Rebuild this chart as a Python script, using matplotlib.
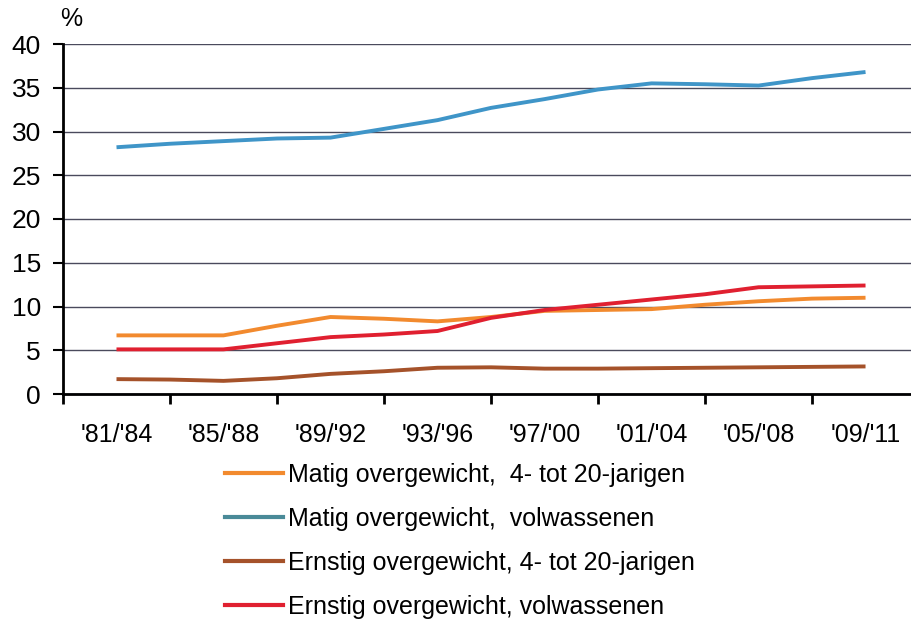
import matplotlib
matplotlib.use("Agg")
import matplotlib.pyplot as plt
import numpy as np

plt.rcParams['font.family'] = ['Liberation Sans', 'DejaVu Sans']

categories = ["'81/'84", "'85/'88", "'89/'92", "'93/'96", "'97/'00", "'01/'04", "'05/'08", "'09/'11"]
# positions in category units (half-period steps)
pos = [0, 0.5, 1, 1.5, 2, 2.5, 3, 3.5, 4, 4.5, 5, 5.5, 6, 6.5, 7]

matig_jong = [6.7, 6.7, 6.7, 7.8, 8.8, 8.6, 8.3, 8.8, 9.5, 9.6, 9.7, 10.2, 10.6, 10.9, 11.0]
matig_volw = [28.2, 28.6, 28.9, 29.2, 29.3, 30.3, 31.3, 32.7, 33.7, 34.8, 35.5, 35.4, 35.25, 36.1, 36.8]
ernstig_jong = [1.7, 1.65, 1.5, 1.8, 2.3, 2.6, 3.0, 3.05, 2.9, 2.9, 2.95, 3.0, 3.05, 3.1, 3.15]
ernstig_volw = [5.1, 5.1, 5.1, 5.8, 6.5, 6.8, 7.2, 8.7, 9.6, 10.2, 10.8, 11.4, 12.2, 12.3, 12.4]

labels = ["Matig overgewicht,  4- tot 20-jarigen",
          "Matig overgewicht,  volwassenen",
          "Ernstig overgewicht, 4- tot 20-jarigen",
          "Ernstig overgewicht, volwassenen"]
line_colors = ["#f28a2e", "#3f95c8", "#a5522a", "#e02030"]
legend_colors = ["#f28a2e", "#4a8a98", "#a5522a", "#e02030"]

fig = plt.figure(figsize=(9.11, 6.22), dpi=100)
ax = fig.add_axes([63/911, (622-394)/622, 1 - 63/911, (394-44)/622])

series = [matig_jong, matig_volw, ernstig_jong, ernstig_volw]
for s, c in zip(series, line_colors):
    ax.plot(pos, s, color=c, lw=2.8, solid_capstyle='butt')

ax.set_ylim(0, 40)
ax.set_xlim(-0.5, 7.425)
ax.set_yticks(np.arange(0, 41, 5))
ax.yaxis.grid(True, color='#4a4a5c', lw=1.0)
ax.set_axisbelow(True)
ax.tick_params(axis='y', length=7, width=1.5, pad=9, labelsize=19, color='black')

ax.set_xticks(range(len(categories)))
ax.set_xticklabels(categories, fontsize=18)
ax.set_xticks(np.arange(-0.5, 7.5, 1), minor=True)
ax.tick_params(axis='x', which='major', length=0, pad=21)
ax.tick_params(axis='x', which='minor', length=7, width=2, color='black')

for sp in ['top', 'right']:
    ax.spines[sp].set_visible(False)
ax.spines['left'].set_linewidth(2)
ax.spines['bottom'].set_linewidth(2)

fig.text(71/911, 1 - 19/622, '%', fontsize=18, ha='center', va='center')

handles = [plt.Line2D([], [], color=c, lw=3) for c in legend_colors]
fig.legend(handles, labels, loc='upper left', bbox_to_anchor=(225/911, 1 - 463/622),
           frameon=False, fontsize=18, handlelength=2.3, handletextpad=0.2,
           labelspacing=0.8, borderpad=0, borderaxespad=0)

fig.savefig('out.png', dpi=100)
